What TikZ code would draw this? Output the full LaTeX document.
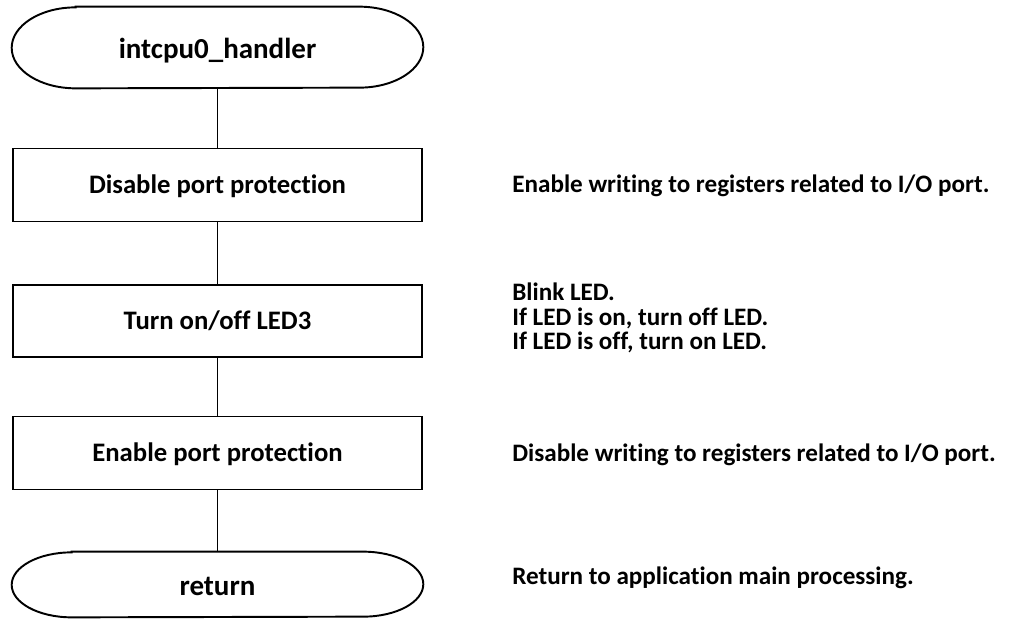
\documentclass[tikz,border=0pt]{standalone}
\usepackage{fontspec}
\setmainfont[Ligatures={NoCommon}]{Carlito}
\begin{document}
\begin{tikzpicture}[x=0.02cm,y=-0.02cm]

    \tikzset{
      stepbox/.style={
        draw,
        line width=1.1pt,
        rectangle,
        minimum width=8.18cm,
        minimum height=1.46cm,
        inner sep=0pt,
        text height=9.8pt,
        text depth=0pt,
        font=\fontsize{15.2}{18}\selectfont\bfseries,
      },
      termtext/.style={
        rectangle,
        inner sep=0pt,
        minimum width=8.22cm,
        text height=12pt,
        text depth=0pt,
        font=\fontsize{16.5}{19}\selectfont\bfseries,
      },
      termline/.style={line width=1.1pt},
      link/.style={line width=0.6pt},
      note/.style={
        anchor=west,
        align=left,
        inner sep=0pt,
        font=\fontsize{14.3}{13.9}\selectfont\bfseries,
      },
    }
    \useasboundingbox (0,0) rectangle (1035,619);

	\node[termtext, minimum height=1.62cm] (start) at (217.5,47.5) {intcpu0\_handler};
	\node[stepbox] (noprot) at (217.5,185) {Disable port protection};
	\node[stepbox, minimum height=1.44cm] (led) at (217.5,321) {Turn on/off LED3};
	\node[stepbox] (prot) at (217.5,453) {Enable port protection};
	\node[termtext, minimum height=1.3cm] (ret) at (217.5,584.5) {return};

	% terminal outlines
	\draw[termline] ([xshift=1.28cm]start.north west) -- ([xshift=-1.28cm]start.north east)
	  arc[start angle=90, end angle=-90, x radius=1.28cm, y radius=0.81cm]
	  -- ([xshift=1.28cm]start.south west)
	  arc[start angle=270, end angle=90, x radius=1.28cm, y radius=0.81cm] -- cycle;
	\draw[termline] ([xshift=1.2cm]ret.north west) -- ([xshift=-1.2cm]ret.north east)
	  arc[start angle=90, end angle=-90, x radius=1.2cm, y radius=0.65cm]
	  -- ([xshift=1.2cm]ret.south west)
	  arc[start angle=270, end angle=90, x radius=1.2cm, y radius=0.65cm] -- cycle;

	\draw[link] (start) -- (noprot);
	\draw[link] (noprot) -- (led);
	\draw[link] (led) -- (prot);
	\draw[link] (prot) -- (ret);

	\node[note] (n1) at (512,186) {Enable writing to registers related to I/O port.};
	\node[note] (n2) at (512,318) {Blink LED.\\If LED is on, turn off LED.\\If LED is off, turn on LED.};
	\node[note] (n3) at (512,455) {Disable writing to registers related to I/O port.};
	\node[note] (n4) at (512,578) {Return to application main processing.};

\end{tikzpicture}
\end{document}
